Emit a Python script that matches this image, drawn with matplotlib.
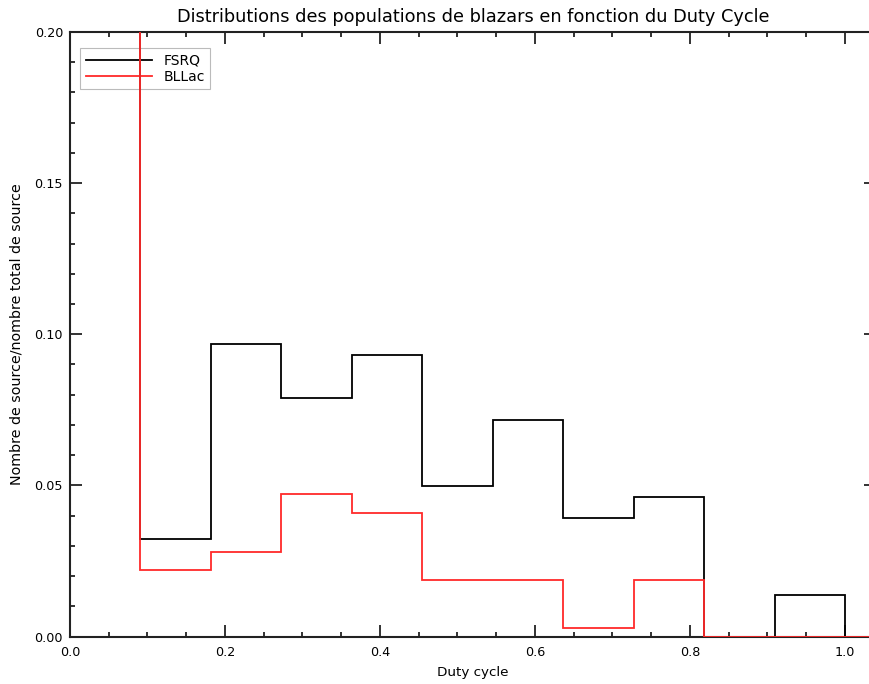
import numpy as np
import matplotlib
matplotlib.use("Agg")
import matplotlib.pyplot as plt
from matplotlib.ticker import MultipleLocator, FormatStrFormatter

plt.rcParams['font.family'] = ['DejaVu Sans']

# Duty-cycle bins of width 1/11, plus an empty bin past 1.0
bin_edges = [0.0, 1/11, 2/11, 3/11, 4/11, 5/11, 6/11, 7/11, 8/11, 9/11, 10/11, 1.0, 12/11]

fsrq = [0.478, 0.0322, 0.0968, 0.0789, 0.0932, 0.0498, 0.0715, 0.0393, 0.0463, 0.0, 0.0138, 0.0]
bllac = [0.803, 0.0219, 0.0280, 0.0473, 0.0409, 0.0186, 0.0186, 0.0028, 0.0186, 0.0, 0.0, 0.0]

series_names = ["FSRQ", "BLLac"]
series_colors = ["black", "#ff2a2a"]

fig = plt.figure(figsize=(8.70, 6.84), dpi=100)
ax = fig.add_axes([70/870, 47.5/684, 806/870, 604.5/684])

ax.stairs(fsrq, bin_edges, baseline=None, color=series_colors[0], lw=1.3,
          label=series_names[0], zorder=3)
ax.stairs(bllac, bin_edges, baseline=None, color=series_colors[1], lw=1.3,
          label=series_names[1], zorder=4)

ax.set_xlim(0, 1.04)
ax.set_ylim(0, 0.20)

ax.xaxis.set_major_locator(MultipleLocator(0.2))
ax.xaxis.set_minor_locator(MultipleLocator(0.05))
ax.yaxis.set_major_locator(MultipleLocator(0.05))
ax.yaxis.set_minor_locator(MultipleLocator(0.01))
ax.xaxis.set_major_formatter(FormatStrFormatter('%.1f'))
ax.yaxis.set_major_formatter(FormatStrFormatter('%.2f'))

ax.tick_params(which='both', direction='in', top=True, right=True, width=1.3, colors='#222222',
               labelsize=9.2, labelcolor='black')
ax.tick_params(which='major', length=8.3)
ax.tick_params(axis='x', which='major', pad=7)
ax.tick_params(axis='y', which='major', pad=5)
ax.tick_params(which='minor', length=3.8)
for sp in ax.spines.values():
    sp.set_linewidth(1.5)
    sp.set_color('#222222')

ax.set_title("Distributions des populations de blazars en fonction du Duty Cycle",
             fontsize=12.8, pad=7)
ax.set_xlabel("Duty cycle", fontsize=9.7, labelpad=5)
ax.set_ylabel("Nombre de source/nombre total de source", fontsize=10.3, labelpad=8)

leg = ax.legend(loc='upper left', bbox_to_anchor=(10/806, 1 - 16/604.5), borderaxespad=0,
                fancybox=False, edgecolor='#bbbbbb', fontsize=10, handlelength=4.8,
                handletextpad=0.8, borderpad=0.4, labelspacing=0.15, framealpha=1)
leg.get_frame().set_linewidth(0.8)
leg.set_zorder(1)

fig.savefig("out.png", dpi=100)
